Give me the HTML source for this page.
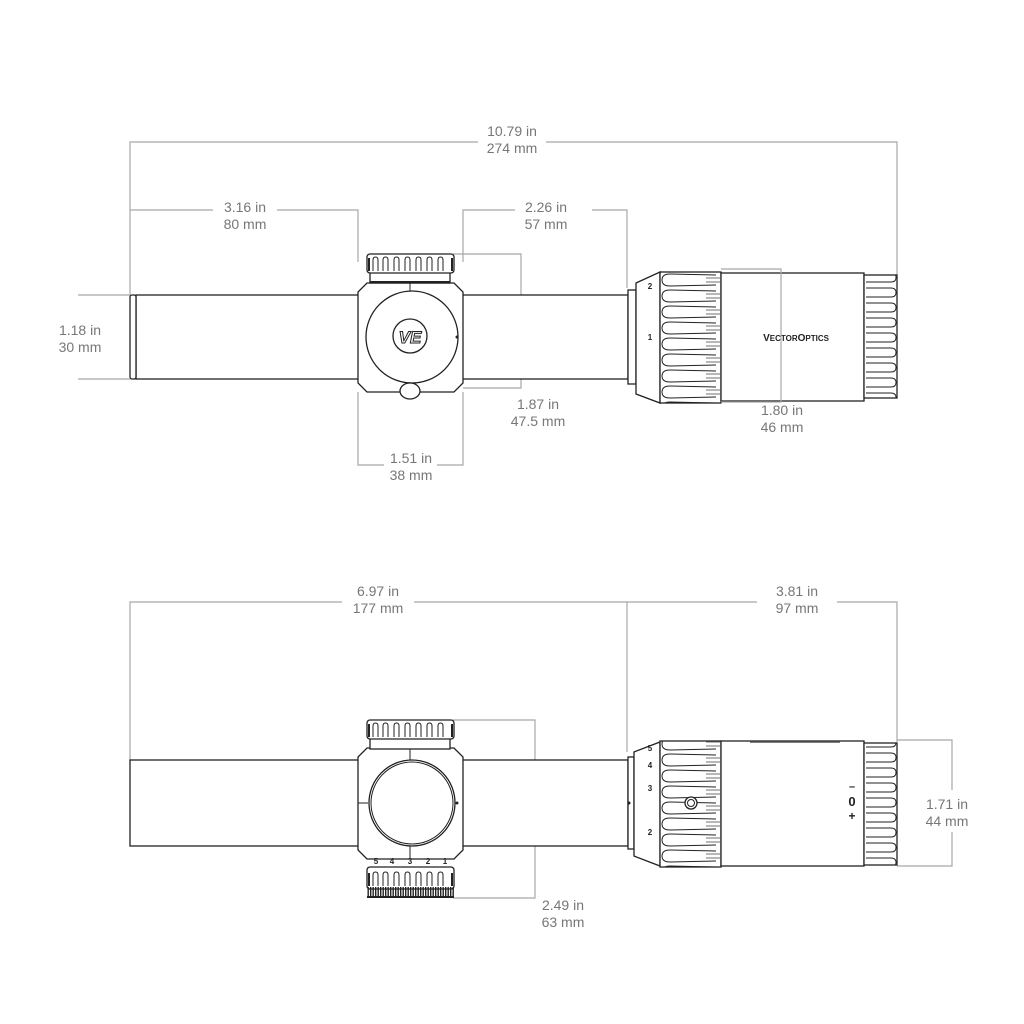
<!DOCTYPE html>
<html><head><meta charset="utf-8"><style>
html,body{margin:0;padding:0;background:#fff;width:1024px;height:1024px;overflow:hidden}
svg{display:block}
.d{stroke:#a8a8a8;stroke-width:1.2;fill:none}
.t{font-family:"Liberation Sans",sans-serif;font-size:14px;fill:#777;text-anchor:middle}
.k{stroke:#222;stroke-width:1.3;fill:#fff}
.kn{stroke:#222;stroke-width:1;fill:none}
.n{font-family:"Liberation Sans",sans-serif;font-size:8px;font-weight:bold;fill:#222;text-anchor:middle}
</style></head><body>
<svg width="1024" height="1024" viewBox="0 0 1024 1024">
<defs>
<pattern id="rib" x="660" y="0" width="61" height="16" patternUnits="userSpaceOnUse">
<path d="M56,3 L10,2 Q2,2 2,8 Q2,14 10,14 L56,13" stroke="#222" stroke-width="1" fill="none"/>
<path d="M46,6 L60,6 M46,10 L60,10" stroke="#444" stroke-width="0.8"/>
</pattern>
<pattern id="rib2" x="864" y="0" width="33" height="15" patternUnits="userSpaceOnUse">
<path d="M2,3 L27,3 Q32,3 32,7.5 Q32,12 27,12 L2,12" stroke="#222" stroke-width="1" fill="none"/>
</pattern>
<pattern id="teeth" x="0" y="0" width="2.5" height="10" patternUnits="userSpaceOnUse">
<rect width="1.4" height="10" fill="#222"/>
</pattern>
<g id="flutes">
<path d="M373,16 V5 Q373,2 375.5,2 Q378,2 378,5 V16 M383,16 V5 Q383,2 385.5,2 Q388,2 388,5 V16 M394,16 V5 Q394,2 396.5,2 Q399,2 399,5 V16 M405,16 V5 Q405,2 407.5,2 Q410,2 410,5 V16 M416,16 V5 Q416,2 418.5,2 Q421,2 421,5 V16 M427,16 V5 Q427,2 429.5,2 Q432,2 432,5 V16 M438,16 V5 Q438,2 440.5,2 Q443,2 443,5 V16" stroke="#222" stroke-width="1" fill="none"/>
<path d="M369,3 V16 M452,3 V16" stroke="#222" stroke-width="2"/>
</g>
</defs>

<!-- ========== TOP VIEW ========== -->
<path class="d" d="M130,295 V142 H478 M546,142 H897 V275"/>
<text class="t" x="512" y="136">10.79 in</text><text class="t" x="512" y="153">274 mm</text>
<path class="d" d="M130,210 H213 M277,210 H358 V262"/>
<text class="t" x="245" y="212">3.16 in</text><text class="t" x="245" y="229">80 mm</text>
<path class="d" d="M463,262 V210 H515 M592,210 H627 V288"/>
<text class="t" x="546" y="212">2.26 in</text><text class="t" x="546" y="229">57 mm</text>
<path class="d" d="M78,295 H130 M78,379 H130"/>
<text class="t" x="80" y="335">1.18 in</text><text class="t" x="80" y="352">30 mm</text>
<path class="d" d="M453,254 H521 V388 H463"/>
<text class="t" x="538" y="409">1.87 in</text><text class="t" x="538" y="426">47.5 mm</text>
<path class="d" d="M358,392 V465 H384 M437,465 H463 V392"/>
<text class="t" x="411" y="463">1.51 in</text><text class="t" x="411" y="480">38 mm</text>

<rect class="k" x="136" y="295" width="492" height="84"/>
<rect class="k" x="130" y="295" width="6" height="84" rx="2"/>
<path class="k" d="M367,283 H454 L463,292 V383 L454,392 H367 L358,383 V292 Z"/>
<line class="kn" x1="410" y1="283" x2="410" y2="292"/>
<circle class="k" cx="412" cy="337" r="46" stroke-width="2"/>
<circle cx="457" cy="337" r="1.5" fill="#222"/>
<circle class="k" cx="410" cy="336" r="17" stroke-width="1.5"/>
<text x="410" y="343" font-family="Liberation Sans,sans-serif" font-size="17" font-weight="bold" font-style="italic" fill="#fff" stroke="#222" stroke-width="1" text-anchor="middle">VE</text>
<ellipse class="k" cx="410" cy="391" rx="10" ry="8" stroke-width="1.8"/>
<rect class="k" x="370" y="272" width="80" height="11"/>
<rect x="367" y="254" width="87" height="19" rx="3" class="k" stroke-width="1.8"/>
<use href="#flutes" y="255"/>
<line x1="370" y1="282" x2="450" y2="282" stroke="#222" stroke-width="2"/>
<rect class="k" x="628" y="290" width="8" height="94"/>
<path class="k" d="M636,283 L660,272 V403 L636,394 Z"/>
<rect class="k" x="660" y="272" width="61" height="131"/>
<rect x="660" y="272" width="61" height="131" fill="url(#rib)"/>
<path class="kn" d="M660,272 H721 V403 H660 Z"/>
<rect class="k" x="721" y="273" width="143" height="128"/>
<rect class="k" x="864" y="275" width="33" height="123"/>
<rect x="864" y="275" width="33" height="123" fill="url(#rib2)"/>
<path class="kn" d="M864,275 H897 V398 H864 Z"/>
<text x="796" y="341" font-family="Liberation Sans,sans-serif" font-size="10" font-weight="bold" fill="#222" text-anchor="middle">V<tspan font-size="8">ECTOR</tspan>O<tspan font-size="8">PTICS</tspan></text>
<text class="n" x="650" y="289">2</text><text class="n" x="650" y="340">1</text>
<path class="d" d="M721,269 H781 V402 H721"/>
<text class="t" x="782" y="415">1.80 in</text><text class="t" x="782" y="432">46 mm</text>

<!-- ========== BOTTOM VIEW ========== -->
<path class="d" d="M130,760 V602 H342 M414,602 H757 M837,602 H897 V742"/>
<line class="d" x1="627" y1="602" x2="627" y2="752"/>
<text class="t" x="378" y="596">6.97 in</text><text class="t" x="378" y="613">177 mm</text>
<text class="t" x="797" y="596">3.81 in</text><text class="t" x="797" y="613">97 mm</text>
<path class="d" d="M453,720 H535 V898 H453"/>
<text class="t" x="563" y="910">2.49 in</text><text class="t" x="563" y="927">63 mm</text>
<path class="d" d="M897,740 H952 V790 M952,832 V866 H897"/>
<text class="t" x="947" y="809">1.71 in</text><text class="t" x="947" y="826">44 mm</text>

<rect class="k" x="130" y="760" width="498" height="86"/>
<path class="k" d="M367,748 H454 L463,757 V850 L454,859 H367 L358,850 V757 Z"/>
<line class="kn" x1="410" y1="748" x2="410" y2="760"/>
<line class="kn" x1="410" y1="846" x2="410" y2="859"/>
<line class="kn" x1="358" y1="803" x2="368" y2="803"/>
<circle class="k" cx="412" cy="803" r="43" stroke-width="2"/>
<circle class="kn" cx="412" cy="803" r="41" stroke-width="0.8"/>
<circle cx="457" cy="803" r="1.5" fill="#222"/>
<rect class="k" x="370" y="738" width="80" height="11"/>
<rect x="367" y="720" width="87" height="19" rx="3" class="k" stroke-width="1.8"/>
<use href="#flutes" y="721"/>
<text class="n" x="376" y="864">5</text><text class="n" x="392" y="864">4</text><text class="n" x="410" y="864">3</text><text class="n" x="428" y="864">2</text><text class="n" x="445" y="864">1</text>
<rect x="367" y="867" width="87" height="22" rx="3" class="k" stroke-width="1.8"/>
<use href="#flutes" y="870"/>
<rect x="367" y="887" width="87" height="10" fill="url(#teeth)"/>
<line x1="367" y1="897" x2="454" y2="897" stroke="#222" stroke-width="2"/>
<rect class="k" x="628" y="757" width="6" height="92"/>
<path class="k" d="M634,752 L660,742 V866 L634,856 Z"/>
<circle cx="629" cy="803" r="1.5" fill="#222"/>
<rect class="k" x="660" y="741" width="61" height="126"/>
<rect x="660" y="741" width="61" height="126" fill="url(#rib)"/>
<path class="kn" d="M660,741 H721 V867 H660 Z"/>
<circle class="k" cx="691" cy="803" r="6" stroke-width="1.5"/>
<circle class="kn" cx="691" cy="803" r="3.5"/>
<rect class="k" x="721" y="741" width="143" height="125"/>
<line x1="750" y1="742" x2="840" y2="742" stroke="#555" stroke-width="1.5"/>
<rect class="k" x="864" y="743" width="33" height="122"/>
<rect x="864" y="743" width="33" height="122" fill="url(#rib2)"/>
<path class="kn" d="M864,743 H897 V865 H864 Z"/>
<text class="n" x="650" y="751">5</text><text class="n" x="650" y="768">4</text><text class="n" x="650" y="791">3</text><text class="n" x="650" y="835">2</text>
<text x="852" y="790" font-family="Liberation Sans,sans-serif" font-size="11" font-weight="bold" fill="#222" text-anchor="middle">–</text>
<text x="852" y="806" font-family="Liberation Sans,sans-serif" font-size="13" font-weight="bold" fill="#222" text-anchor="middle">0</text>
<text x="852" y="820" font-family="Liberation Sans,sans-serif" font-size="12" font-weight="bold" fill="#222" text-anchor="middle">+</text>
</svg>
</body></html>
